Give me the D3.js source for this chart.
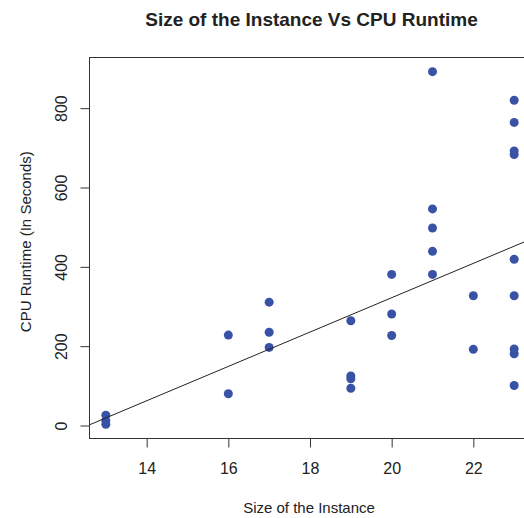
<!DOCTYPE html>
<html><head><meta charset="utf-8">
<script src="https://cdn.jsdelivr.net/npm/d3@7"></script>
<style>body{margin:0;background:#fff}svg{display:block}text{font-family:"Liberation Sans",Arial,sans-serif;fill:#222}</style>
</head><body><svg id="c" width="524" height="518"></svg>
<script>
const sizes   = [13,13,13,16,16,17,17,17,19,19,19,19,20,20,20,21,21,21,21,21,22,22,23,23,23,23,23,23,23,23,23];
const runtime = [26,12,3,228,80,311,235,197,264,125,118,94,381,281,227,892,546,498,439,381,327,192,820,764,692,683,419,327,193,181,101];
const xTicks = [14,16,18,20,22];
const yTicks = [0,200,400,600,800];
const fitLine = {intercept:-543.8, slope:43.3};
const title = "Size of the Instance Vs CPU Runtime";
const xLabel = "Size of the Instance";
const yLabel = "CPU Runtime (In Seconds)";

const svg = d3.select("#c");
const L=89.5, R=530.5, T=57.5, B=438.5;
const x = d3.scaleLinear().domain([12.6,23.4]).range([L,R]);
const y = d3.scaleLinear().domain([-32.7,927.7]).range([B,T]);

svg.append("text").attr("x",311.5).attr("y",25.5).attr("text-anchor","middle")
  .style("font-size","19px").style("font-weight","bold").text(title);

svg.append("rect").attr("x",L).attr("y",T).attr("width",R-L).attr("height",B-T)
  .attr("fill","none").attr("stroke","#333").attr("stroke-width",1);

const xa = svg.append("g").attr("transform",`translate(0,${B})`)
  .call(d3.axisBottom(x).tickValues(xTicks).tickSize(9).tickSizeOuter(0));
xa.select(".domain").remove();
xa.selectAll("line").attr("stroke","#333");
xa.selectAll("text").style("font-size","16px").attr("fill","#222").attr("y",35.5).attr("dy",0);

const ya = svg.append("g").attr("transform",`translate(${L},0)`)
  .call(d3.axisLeft(y).tickValues(yTicks).tickSize(9).tickSizeOuter(0));
ya.select(".domain").remove();
ya.selectAll("line").attr("stroke","#333");
ya.selectAll("text").style("font-size","16px").attr("fill","#222")
  .attr("x",0).attr("dy",0).attr("text-anchor","middle")
  .attr("transform","translate(-22.5,0) rotate(-90)").attr("y",0);

svg.append("text").attr("x",309).attr("y",513).attr("text-anchor","middle")
  .style("font-size","15px").text(xLabel);
svg.append("text").attr("transform",`translate(31,241.7) rotate(-90)`)
  .attr("text-anchor","middle").style("font-size","15px").text(yLabel);

svg.append("clipPath").attr("id","pc").append("rect")
  .attr("x",L).attr("y",T).attr("width",R-L).attr("height",B-T);

svg.append("g").selectAll("circle").data(sizes.map((s,i)=>[s,runtime[i]])).join("circle")
  .attr("cx",d=>x(d[0])).attr("cy",d=>y(d[1])).attr("r",4.5).attr("fill","#3a52a5");

const xs=[12.6,23.4];
svg.append("line").attr("clip-path","url(#pc)")
  .attr("x1",x(xs[0])).attr("y1",y(fitLine.intercept+fitLine.slope*xs[0]))
  .attr("x2",x(xs[1])).attr("y2",y(fitLine.intercept+fitLine.slope*xs[1]))
  .attr("stroke","#222").attr("stroke-width",1);
</script></body></html>
